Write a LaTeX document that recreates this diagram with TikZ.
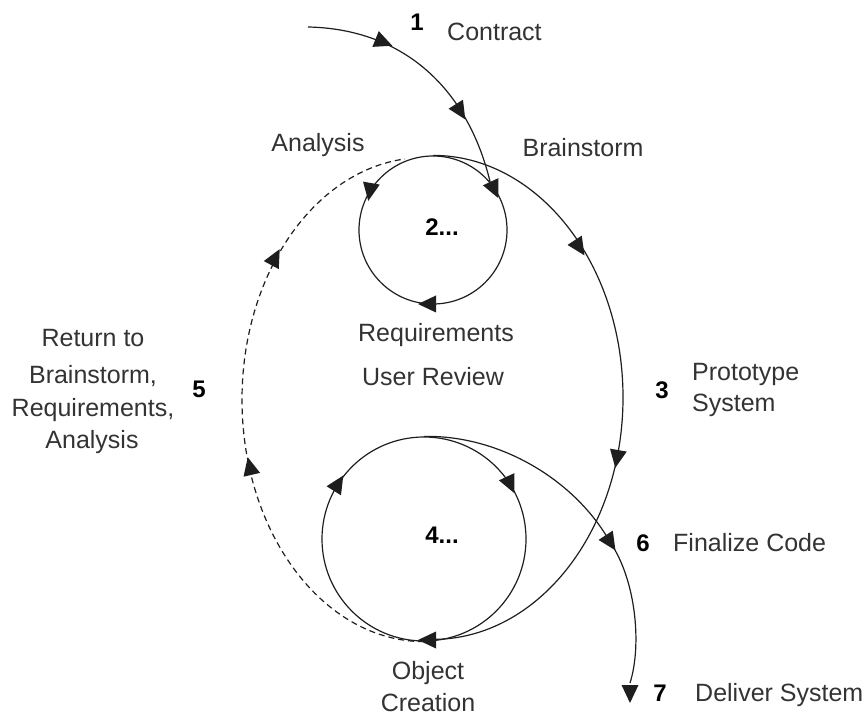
\documentclass[tikz,border=0pt]{standalone}
\usepackage{fontspec}
\setmainfont{Liberation Sans}
\definecolor{lncol}{HTML}{1E1E1E}
\definecolor{txtcol}{HTML}{333333}
\begin{document}
\begin{tikzpicture}[x=1pt,y=1pt,
  ln/.style={draw=lncol, line width=1.2pt},
  lbl/.style={text=txtcol, font=\fontsize{25}{30}\selectfont, inner sep=0pt, text height=18pt, text depth=0pt},
  num/.style={lbl, font=\fontsize{24}{30}\selectfont\bfseries, text=black},
  arrowtri/.pic={\fill[lncol] (10,0) -- (-8,8.5) -- (-8,-8.5) -- cycle;}
]
\useasboundingbox (0,0) rectangle (867,715);

% circles
\node[ln, circle, minimum size=148pt, inner sep=0pt] (c2) at (433,485) {};
\node[ln, circle, minimum size=204pt, inner sep=0pt] (c4) at (424,176) {};

% connectors
\coordinate (start) at (308,688);
\coordinate (fin) at (630,32);
\coordinate (six) at (610,173);
\draw[ln] (start) .. controls (405,686) and (468,625) .. (c2.40);
\draw[ln] (c2.north) arc[start angle=90, end angle=-90, x radius=190pt, y radius=242pt];
\draw[ln, dash pattern=on 6pt off 4pt] (c4.south) arc[start angle=-90, end angle=-264, x radius=182pt, y radius=242pt];
\draw[ln] (c4.north) .. controls (500,280) and (575,235) .. (six) .. controls (636,135) and (642,70) .. (fin);

% arrowheads
\pic[rotate=-22] at (383,673) {arrowtri};
\pic[rotate=-58] at (460,604) {arrowtri};
\pic[rotate=-65] at (494,526) {arrowtri};
\pic[rotate=-100] at (370,524) {arrowtri};
\pic[rotate=180] at (428,411) {arrowtri};
\pic[rotate=-57] at (579,468) {arrowtri};
\pic[rotate=-100] at (617,257) {arrowtri};
\pic[rotate=62] at (275,457) {arrowtri};
\pic[rotate=103] at (250,248) {arrowtri};
\pic[rotate=58] at (338,231) {arrowtri};
\pic[rotate=-65] at (510,231) {arrowtri};
\pic[rotate=180] at (428,75) {arrowtri};
\pic[rotate=-57] at (six) {arrowtri};
\pic[rotate=-90] at (630,22) {arrowtri};

% labels
\node[num] (n1) at (417,693) {1};
\node[lbl, anchor=west] (tcontract) at (447,683) {Contract};
\node[lbl] (tanalysis) at (318,572) {Analysis};
\node[lbl] (tbrain) at (583,567) {Brainstorm};
\node[num] (n2) at (442,488) {2...};
\node[lbl] (treq) at (436,382) {Requirements};
\node[lbl] (tret1) at (93,377) {Return to};
\node[lbl] (tret2) at (93,340) {Brainstorm,};
\node[lbl] (tret3) at (93,307) {Requirements,};
\node[lbl] (tret4) at (92,275) {Analysis};
\node[num] (n5) at (199,326) {5};
\node[lbl] (tuser) at (433,338) {User Review};
\node[num] (n3) at (662,325) {3};
\node[lbl, anchor=west] (tproto) at (692,343) {Prototype};
\node[lbl, anchor=west] (tsys) at (692,312) {System};
\node[num] (n4) at (442,180) {4...};
\node[num] (n6) at (643,172) {6};
\node[lbl, anchor=west] (tfinal) at (673,172) {Finalize Code};
\node[lbl] (tobj) at (428,45) {Object};
\node[lbl] (tcre) at (428,13) {Creation};
\node[num] (n7) at (660,23) {7};
\node[lbl, anchor=west] (tdeliver) at (695,23) {Deliver System};
\end{tikzpicture}
\end{document}
